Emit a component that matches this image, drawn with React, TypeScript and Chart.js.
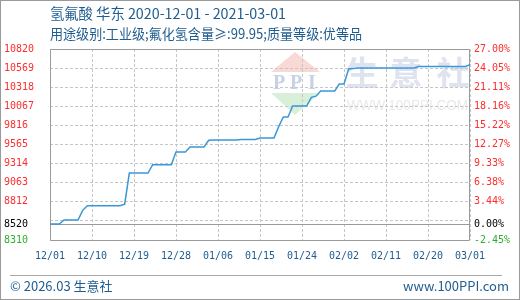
import { useEffect, useRef } from 'react';
import { Chart, registerables } from 'chart.js';

Chart.register(...registerables);

const titleLine1 = '氢氟酸 华东 2020-12-01 - 2021-03-01';
const titleLine2 = '用途级别:工业级;氟化氢含量≥:99.95;质量等级:优等品';
const footerLeft = '© 2026.03 生意社';
const footerRight = 'www.100PPI.com';

// day offsets from 2020-12-01 and the labels shown on the x axis
const xTickDays = [0, 9, 18, 27, 36, 45, 54, 63, 72, 81, 90];
const xTickLabels = ['12/01', '12/10', '12/19', '12/28', '01/06', '01/15', '01/24', '02/02', '02/11', '02/20', '03/01'];

// daily price, 2020-12-01 .. 2021-03-01 (91 days)
const prices = [
  8520, 8520, 8520, 8573, 8573, 8573, 8573, 8700, 8760, 8760,
  8760, 8760, 8760, 8760, 8760, 8760, 8780, 9190, 9190, 9190,
  9190, 9190, 9299, 9299, 9299, 9299, 9299, 9466, 9466, 9466,
  9532, 9532, 9532, 9532, 9620, 9624, 9624, 9624, 9624, 9624,
  9624, 9630, 9630, 9630, 9630, 9650, 9650, 9650, 9650, 9800,
  9926, 9926, 10070, 10070, 10070, 10070, 10184, 10200, 10268, 10268,
  10268, 10268, 10360, 10360, 10557, 10565, 10570, 10570, 10570, 10570,
  10570, 10570, 10570, 10570, 10570, 10570, 10570, 10570, 10570, 10590,
  10590, 10590, 10590, 10590, 10590, 10590, 10590, 10590, 10590, 10590,
  10615,
];

const baseValue = 8520;
const yTickValues = [8310, 8520, 8561, 8812, 9063, 9314, 9565, 9816, 10067, 10318, 10569, 10820];
const leftTickLabels = ['8310', '8520', '', '8812', '9063', '9314', '9565', '9816', '10067', '10318', '10569', '10820'];
const rightTickLabels = ['-2.45%', '0.00%', '', '3.44%', '6.38%', '9.33%', '12.27%', '15.22%', '18.16%', '21.11%', '24.05%', '27.00%'];

const RED = '#ff2d2d';
const GREEN = '#2eae2e';
const BLUE_TEXT = '#1f5c8f';
const MONO = '"DejaVu Sans Mono", monospace';

function tickColor(v: number) {
  if (v === baseValue) return '#000000';
  if (v < baseValue) return GREEN;
  return RED;
}

const decorPlugin = {
  id: 'decor',
  beforeDraw(chart: any) {
    const ctx = chart.ctx;
    ctx.save();
    // watermark logo
    ctx.fillStyle = '#f8d9d5';
    ctx.beginPath();
    ctx.moveTo(295, 52);
    ctx.lineTo(320, 72);
    ctx.lineTo(271, 72);
    ctx.closePath();
    ctx.fill();
    ctx.fillStyle = '#d8f0da';
    ctx.beginPath();
    ctx.moveTo(271, 93);
    ctx.lineTo(320, 93);
    ctx.lineTo(295, 115);
    ctx.closePath();
    ctx.fill();
    ctx.fillStyle = '#c8d2e6';
    ctx.font = 'bold 20px "Liberation Serif", serif';
    ctx.textBaseline = 'alphabetic';
    ctx.textAlign = 'left';
    ctx.fillText('P', 273, 89);
    ctx.fillText('P', 290, 89);
    ctx.fillText('I', 308, 89);
    ctx.fillStyle = '#dfe3ef';
    ctx.font = 'bold 33px "Noto Sans CJK SC", sans-serif';
    ctx.textAlign = 'center';
    ctx.textBaseline = 'middle';
    ctx.fillText('生', 362, 72);
    ctx.fillText('意', 406, 72);
    ctx.fillText('社', 453, 72);
    ctx.fillStyle = '#e9e9e9';
    ctx.font = '15px "Liberation Sans", sans-serif';
    ctx.textAlign = 'left';
    ctx.fillText('WWW.100PPI.COM', 347, 106, 121);
    ctx.restore();
  },
  beforeDatasetsDraw(chart: any) {
    const { ctx, chartArea } = chart;
    const l = Math.round(chartArea.left) + 0.5;
    const r = Math.round(chartArea.right) - 0.5;
    const t = Math.round(chartArea.top) + 0.5;
    const b = Math.round(chartArea.bottom) + 0.5;
    ctx.save();
    ctx.strokeStyle = '#9a9a9a';
    ctx.lineWidth = 1;
    ctx.beginPath();
    ctx.moveTo(l, t);
    ctx.lineTo(r, t);
    ctx.lineTo(r, b);
    ctx.lineTo(l, b);
    ctx.closePath();
    ctx.stroke();
    ctx.restore();
  },
  afterDraw(chart: any) {
    const ctx = chart.ctx;
    ctx.save();
    ctx.fillStyle = BLUE_TEXT;
    ctx.textAlign = 'left';
    ctx.textBaseline = 'middle';
    ctx.font = '14.3px "Noto Sans CJK SC", sans-serif';
    ctx.fillText(titleLine1, 50, 14);
    ctx.font = '14px "Noto Sans CJK SC", sans-serif';
    ctx.fillText(titleLine2, 50, 34, 312);
    // separator
    ctx.strokeStyle = '#a8a8a8';
    ctx.lineWidth = 1;
    ctx.beginPath();
    ctx.moveTo(10, 275.5);
    ctx.lineTo(502, 275.5);
    ctx.stroke();
    // footer
    ctx.font = '13px "Noto Sans CJK SC", sans-serif';
    ctx.fillText(footerLeft, 10, 286);
    ctx.textAlign = 'right';
    ctx.fillText(footerRight, 509, 286);
    // outer frame
    ctx.strokeStyle = '#9a9a9a';
    ctx.lineWidth = 1;
    ctx.strokeRect(0.5, 0.5, 519, 299);
    ctx.restore();
  },
};

export default function App() {
  const ref = useRef<HTMLCanvasElement | null>(null);

  useEffect(() => {
    if (!ref.current) return;
    const chart = new Chart(ref.current, {
      type: 'line',
      data: {
        datasets: [
          {
            data: prices.map((p, i) => ({ x: i, y: p })),
            borderColor: '#3a97d8',
            borderWidth: 1.5,
            pointRadius: 0,
            tension: 0,
            fill: false,
            yAxisID: 'y',
          },
        ],
      },
      options: {
        animation: false,
        responsive: false,
        maintainAspectRatio: false,
        layout: { padding: { top: 49, left: 4, right: 0, bottom: 0 } },
        plugins: { legend: { display: false }, tooltip: { enabled: false } },
        scales: {
          x: {
            type: 'linear',
            min: 0,
            max: 90,
            afterBuildTicks: (s: any) => {
              s.ticks = xTickDays.map((v) => ({ value: v }));
            },
            afterFit: (s: any) => {
              s.height = 60;
            },
            ticks: {
              autoSkip: false,
              maxRotation: 0,
              padding: 10,
              color: BLUE_TEXT,
              font: { family: MONO, size: 10 },
              callback: (v: any) => {
                const i = xTickDays.indexOf(Number(v));
                return i >= 0 ? xTickLabels[i] : '';
              },
            },
            grid: { color: '#c6c6c6', drawTicks: false, lineWidth: 1 },
            border: { display: false, dash: [3, 2] },
          },
          y: {
            type: 'linear',
            position: 'left',
            min: 8310,
            max: 10820,
            afterBuildTicks: (s: any) => {
              s.ticks = yTickValues.map((v) => ({ value: v }));
            },
            afterFit: (s: any) => {
              s.width = 46;
            },
            ticks: {
              crossAlign: 'far',
              padding: 4,
              font: { family: MONO, size: 10 },
              color: (c: any) => tickColor(c.tick ? c.tick.value : 0),
              callback: (v: any) => {
                const i = yTickValues.indexOf(Number(v));
                return i >= 0 ? leftTickLabels[i] : '';
              },
            },
            grid: {
              drawTicks: false,
              lineWidth: 1,
              color: (c: any) => (c.tick && c.tick.value === baseValue ? '#9a9a9a' : '#c6c6c6'),
            },
            border: {
              display: false,
              dash: (c: any) => (c.tick && c.tick.value === baseValue ? [] : [3, 2]),
            },
          },
          y2: {
            type: 'linear',
            position: 'right',
            min: 8310,
            max: 10820,
            afterBuildTicks: (s: any) => {
              s.ticks = yTickValues.map((v) => ({ value: v }));
            },
            afterFit: (s: any) => {
              s.width = 50;
            },
            ticks: {
              padding: 4,
              font: { family: MONO, size: 10 },
              color: (c: any) => tickColor(c.tick ? c.tick.value : 0),
              callback: (v: any) => {
                const i = yTickValues.indexOf(Number(v));
                return i >= 0 ? rightTickLabels[i] : '';
              },
            },
            grid: { display: false, drawTicks: false },
            border: { display: false },
          },
        },
      },
      plugins: [decorPlugin],
    });
    return () => chart.destroy();
  }, []);

  return (
    <div style={{ position: 'fixed', left: 0, top: 0, width: 520, height: 300, background: '#ffffff' }}>
      <canvas ref={ref} width={520} height={300} style={{ width: 520, height: 300, display: 'block' }} />
    </div>
  );
}
